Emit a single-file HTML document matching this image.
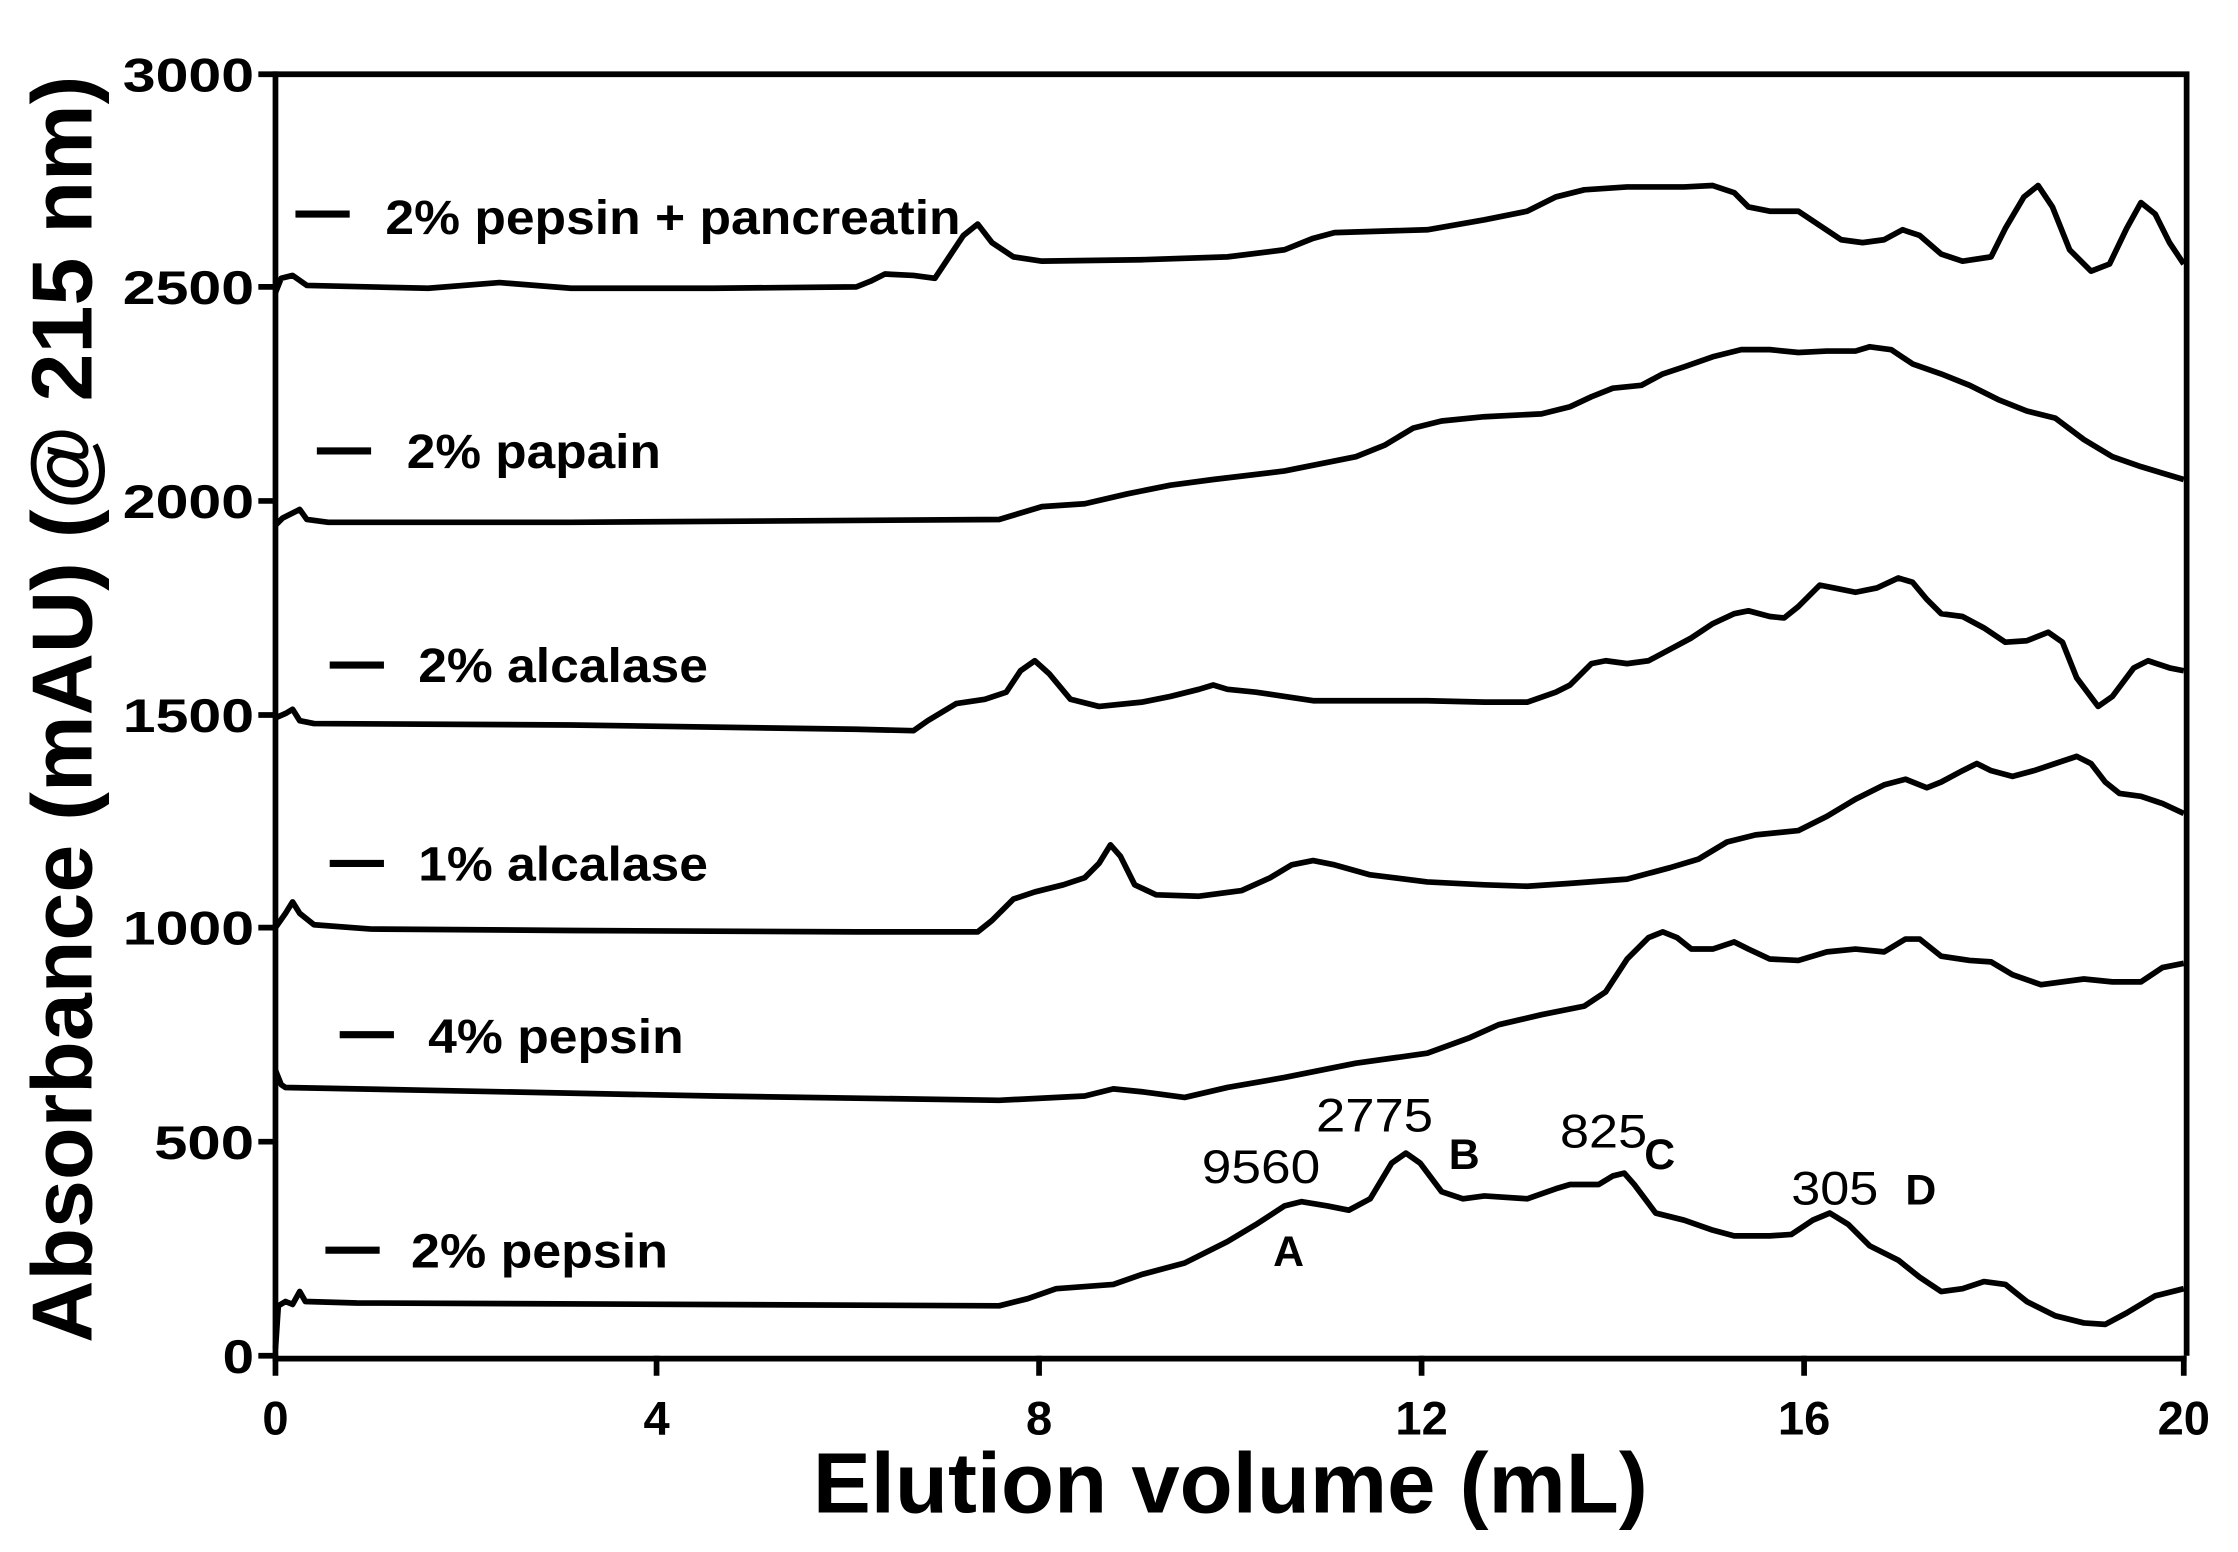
<!DOCTYPE html>
<html><head><style>html,body{margin:0;padding:0;background:#fff}</style></head>
<body>
<svg width="2238" height="1547" viewBox="0 0 1568 1084" preserveAspectRatio="none" xmlns="http://www.w3.org/2000/svg" font-family="Liberation Sans, sans-serif">
<rect width="1568" height="1084" fill="#fff"/>
<g stroke="#000" stroke-width="4" fill="none">
<path d="M193,52 L1532,52 L1532,950"/>
<path d="M193,50 L193,952 L1532,952"/>
<path d="M181,52H193M181,201H193M181,351H193M181,501H193M181,650H193M181,800H193M181,950H193"/>
<path d="M193,950V964M460,950V964M728,950V964M996,950V964M1264,950V964M1530,950V964"/>
</g>
<g font-weight="bold" font-size="33" text-anchor="end">
<text x="178" y="64" textLength="92" lengthAdjust="spacingAndGlyphs">3000</text>
<text x="178" y="213" textLength="92" lengthAdjust="spacingAndGlyphs">2500</text>
<text x="178" y="363" textLength="92" lengthAdjust="spacingAndGlyphs">2000</text>
<text x="178" y="513" textLength="92" lengthAdjust="spacingAndGlyphs">1500</text>
<text x="178" y="662" textLength="92" lengthAdjust="spacingAndGlyphs">1000</text>
<text x="178" y="812" textLength="70" lengthAdjust="spacingAndGlyphs">500</text>
<text x="178" y="962" textLength="22" lengthAdjust="spacingAndGlyphs">0</text>
</g>
<g font-weight="bold" font-size="33" text-anchor="middle">
<text x="193" y="1005">0</text><text x="460" y="1005">4</text><text x="728" y="1005">8</text>
<text x="996" y="1005">12</text><text x="1264" y="1005">16</text><text x="1530" y="1005">20</text>
</g>
<text x="862" y="1060" font-weight="bold" font-size="60" text-anchor="middle" textLength="585" lengthAdjust="spacingAndGlyphs">Elution volume (mL)</text>
<text transform="translate(64,497) rotate(-90)" font-weight="bold" font-size="60" text-anchor="middle" textLength="888" lengthAdjust="spacingAndGlyphs">Absorbance (mAU) (@ 215 nm)</text>
<g stroke="#000" stroke-width="5">
<path d="M207,150H245M222,316H260M231,466H269M231,605H269M238,725H276M228,876H266"/>
</g>
<g font-weight="bold" font-size="34">
<text x="270" y="164" textLength="403" lengthAdjust="spacingAndGlyphs">2% pepsin + pancreatin</text>
<text x="285" y="328" textLength="178" lengthAdjust="spacingAndGlyphs">2% papain</text>
<text x="293" y="478" textLength="203" lengthAdjust="spacingAndGlyphs">2% alcalase</text>
<text x="293" y="617" textLength="203" lengthAdjust="spacingAndGlyphs">1% alcalase</text>
<text x="300" y="738" textLength="179" lengthAdjust="spacingAndGlyphs">4% pepsin</text>
<text x="288" y="888" textLength="180" lengthAdjust="spacingAndGlyphs">2% pepsin</text>
</g>
<g font-weight="bold" font-size="30">
<text x="892" y="887">A</text><text x="1015" y="819">B</text><text x="1152" y="819">C</text><text x="1335" y="844">D</text>
</g>
<g font-size="33">
<text x="842" y="829" textLength="83" lengthAdjust="spacingAndGlyphs">9560</text>
<text x="922" y="793" textLength="82" lengthAdjust="spacingAndGlyphs">2775</text>
<text x="1093" y="804" textLength="61" lengthAdjust="spacingAndGlyphs">825</text>
<text x="1255" y="844" textLength="61" lengthAdjust="spacingAndGlyphs">305</text>
</g>
<g stroke="#000" stroke-width="4" fill="none" stroke-linejoin="round">
<path d="M193,945 L195,915 L200,912 L205,914 L210,905 L214,912 L250,913 L700,915 L720,910 L740,903 L780,900 L800,893 L830,885 L860,870 L880,858 L900,845 L912,842 L930,845 L945,848 L960,840 L975,815 L985,808 L995,815 L1010,835 L1025,840 L1040,838 L1070,840 L1090,833 L1100,830 L1120,830 L1130,824 L1138,822 L1145,830 L1160,850 L1180,855 L1200,862 L1215,866 L1240,866 L1255,865 L1270,855 L1282,850 L1295,858 L1310,873 L1330,883 L1345,895 L1360,905 L1375,903 L1390,898 L1405,900 L1420,912 L1440,922 L1460,927 L1475,928 L1490,920 L1510,908 L1530,903"/>
<path d="M193,750 L197,760 L200,762 L300,764 L500,768 L700,771 L760,768 L780,763 L800,765 L830,769 L860,762 L900,755 L950,745 L1000,738 L1030,727 L1050,718 L1080,711 L1110,705 L1125,695 L1140,672 L1155,657 L1165,653 L1175,657 L1185,665 L1200,665 L1215,660 L1225,665 L1240,672 L1260,673 L1280,667 L1300,665 L1320,667 L1335,658 L1345,658 L1360,670 L1380,673 L1395,674 L1410,683 L1430,690 L1460,686 L1480,688 L1500,688 L1515,678 L1530,675"/>
<path d="M193,650 L200,640 L205,632 L210,640 L220,648 L260,651 L400,652 L600,653 L685,653 L695,645 L710,630 L725,625 L745,620 L760,615 L770,605 L778,592 L785,600 L795,620 L810,627 L840,628 L870,624 L890,615 L905,606 L920,603 L935,606 L960,613 L1000,618 L1040,620 L1070,621 L1100,619 L1140,616 L1170,608 L1190,602 L1210,590 L1230,585 L1260,582 L1280,572 L1300,560 L1320,550 L1335,546 L1350,552 L1360,548 L1375,540 L1385,535 L1395,540 L1410,544 L1425,540 L1440,535 L1455,530 L1465,535 L1475,548 L1485,556 L1500,558 L1515,563 L1530,570"/>
<path d="M193,503 L200,500 L205,497 L210,505 L220,507 L400,508 L600,511 L640,512 L650,505 L670,493 L690,490 L705,485 L715,470 L725,463 L735,472 L750,490 L770,495 L800,492 L820,488 L840,483 L850,480 L860,483 L880,485 L900,488 L920,491 L1000,491 L1040,492 L1070,492 L1090,485 L1100,480 L1115,465 L1125,463 L1140,465 L1155,463 L1170,455 L1185,447 L1200,437 L1215,430 L1225,428 L1240,432 L1250,433 L1260,425 L1275,410 L1285,412 L1300,415 L1315,412 L1330,405 L1340,408 L1350,420 L1360,430 L1375,432 L1390,440 L1405,450 L1420,449 L1435,443 L1445,450 L1455,475 L1470,495 L1480,488 L1495,468 L1505,463 L1520,468 L1530,470"/>
<path d="M193,368 L198,363 L210,357 L215,364 L230,366 L400,366 L700,364 L730,355 L760,353 L790,346 L820,340 L850,336 L900,330 L950,320 L970,312 L990,300 L1010,295 L1040,292 L1080,290 L1100,285 L1115,278 L1130,272 L1150,270 L1165,262 L1180,257 L1200,250 L1220,245 L1240,245 L1260,247 L1280,246 L1300,246 L1310,243 L1325,245 L1340,255 L1360,262 L1380,270 L1400,280 L1420,288 L1440,293 L1460,308 L1480,320 L1500,327 L1530,336"/>
<path d="M193,205 L197,195 L205,193 L215,200 L300,202 L350,198 L400,202 L500,202 L600,201 L610,197 L620,192 L640,193 L655,195 L665,180 L675,165 L685,157 L695,170 L710,180 L730,183 L800,182 L860,180 L900,175 L920,167 L935,163 L1000,161 L1040,154 L1070,148 L1090,138 L1110,133 L1140,131 L1180,131 L1200,130 L1215,135 L1225,145 L1240,148 L1260,148 L1275,158 L1290,168 L1305,170 L1320,168 L1333,161 L1345,165 L1360,178 L1375,183 L1395,180 L1405,160 L1418,138 L1428,130 L1438,145 L1450,175 L1465,190 L1478,185 L1490,160 L1500,142 L1510,150 L1520,170 L1530,185"/>
</g>
</svg>
</body></html>
